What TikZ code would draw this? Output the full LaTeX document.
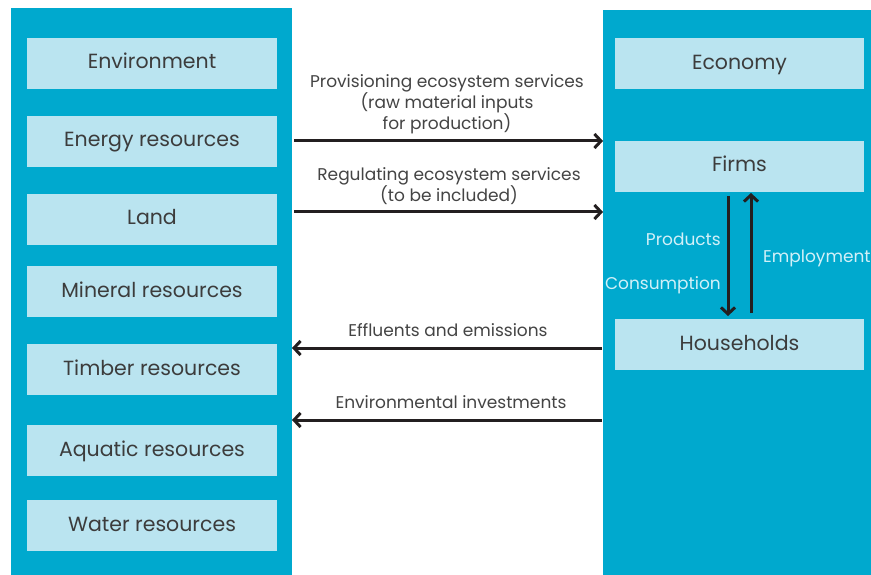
\documentclass[tikz,border=0pt]{standalone}
\usepackage{fontspec}
\setmainfont{Poppins}
\usetikzlibrary{arrows.meta,calc}
\definecolor{teal}{HTML}{00A9CE}
\definecolor{lightbox}{HTML}{BAE4F0}
\definecolor{boxtext}{HTML}{3C3C3C}
\definecolor{midtext}{HTML}{444444}
\definecolor{ontealtext}{HTML}{D2F0F8}
\definecolor{arrowcol}{HTML}{231F20}
\tikzset{
  panel/.style={fill=teal,draw=none,inner sep=0pt},
  itembox/.style={fill=lightbox,draw=none,minimum height=51pt,inner sep=0pt,text height=15pt,text depth=4pt,text=boxtext,font=\fontsize{20.5}{24}\selectfont},
  flow/.style={line width=3pt,draw=arrowcol,-{Straight Barb[length=6.5pt,width=14pt,line width=3pt]}},
  flowlabel/.style={text=midtext,font=\fontsize{17}{21}\selectfont,align=center,inner sep=0pt},
  innerlabel/.style={text=ontealtext,font=\fontsize{17}{21}\selectfont,inner sep=0pt}
}
\begin{document}
\begin{tikzpicture}[x=1pt,y=-1pt]
\useasboundingbox (0,0) rectangle (871,575);
\fill[white] (0,0) rectangle (871,575);
\node[panel,minimum width=281pt,minimum height=567pt] (left) at (151.5,291.5) {};
\node[panel,minimum width=268pt,minimum height=565pt] (right) at (737,292.5) {};
\node[itembox,minimum width=250pt] (env) at (152,63.5) {Environment};
\node[itembox,minimum width=250pt] (energy) at (152,141.5) {Energy resources};
\node[itembox,minimum width=250pt] (land) at (152,219.5) {Land};
\node[itembox,minimum width=250pt] (mineral) at (152,291.5) {Mineral resources};
\node[itembox,minimum width=250pt] (timber) at (152,369.5) {Timber resources};
\node[itembox,minimum width=250pt] (aquatic) at (152,450.5) {Aquatic resources};
\node[itembox,minimum width=250pt] (water) at (152,525.5) {Water resources};
\node[itembox,minimum width=249pt] (econ) at (739.5,64) {Economy};
\node[itembox,minimum width=249pt] (firms) at (739.5,166.5) {Firms};
\node[itembox,minimum width=249pt] (house) at (739.5,344.5) {Households};
\coordinate (a1) at (294,141);
\coordinate (b1) at (603,141);
\coordinate (a2) at (294,212);
\coordinate (b2) at (603,212);
\coordinate (a3) at (602,348);
\coordinate (b3) at (292,348);
\coordinate (a4) at (602,420);
\coordinate (b4) at (292,420);
\draw[flow] (a1) -- (b1);
\draw[flow] (a2) -- (b2);
\draw[flow] (a3) -- (b3);
\draw[flow] (a4) -- (b4);
\node[flowlabel] (l1) at (447,104) {Provisioning ecosystem services\\(raw material inputs\\for production)};
\node[flowlabel] (l2) at (449,186.5) {Regulating ecosystem services\\(to be included)};
\node[flowlabel] (l3) at (448,330) {Effluents and emissions};
\node[flowlabel] (l4) at (451,402) {Environmental investments};
\coordinate (d1) at (728,196);
\coordinate (d2) at (728,316);
\coordinate (u1) at (751,313);
\coordinate (u2) at (751,193);
\draw[flow] (d1) -- (d2);
\draw[flow] (u1) -- (u2);
\node[innerlabel,anchor=east] (prod) at (721,239) {Products};
\node[innerlabel,anchor=east] (cons) at (721,285) {Consumption};
\node[innerlabel,anchor=west] (empl) at (763,258) {Employment};
\end{tikzpicture}
\end{document}
